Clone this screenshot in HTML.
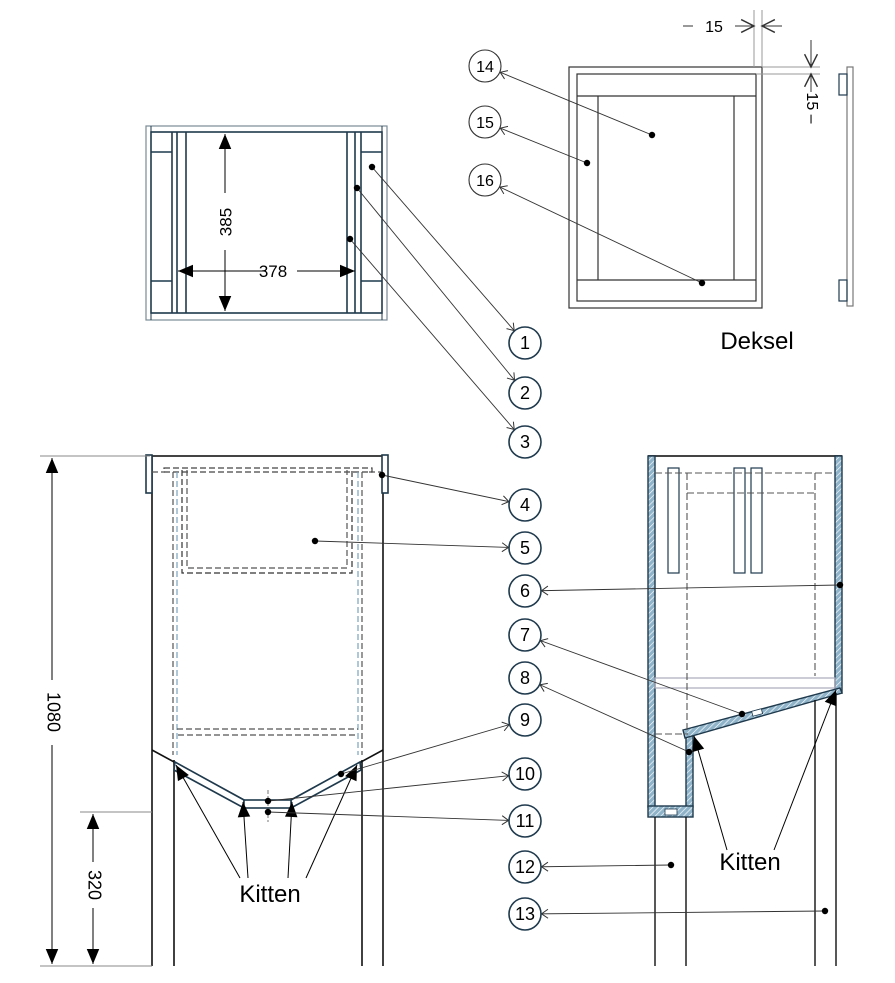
<!DOCTYPE html>
<html><head><meta charset="utf-8"><style>
html,body{margin:0;padding:0;background:#fff;}
svg{display:block;font-family:"Liberation Sans",sans-serif;}
</style></head><body>
<svg width="895" height="983" viewBox="0 0 895 983" xmlns="http://www.w3.org/2000/svg">
<defs>
<marker id="a" markerUnits="userSpaceOnUse" markerWidth="40" markerHeight="20" viewBox="-30 -10 40 20" refX="0" refY="0" orient="auto">
<path d="M-23,-4.5 L-16.5,0 L-23,4.5" fill="none" stroke="#333" stroke-width="1"/>
</marker>
<marker id="f" markerUnits="userSpaceOnUse" markerWidth="20" markerHeight="20" viewBox="-14 -7 16 14" refX="0" refY="0" orient="auto-start-reverse">
<path d="M-12,-5 L0,0 L-12,5 Z" fill="#000"/>
</marker>
<marker id="o" markerUnits="userSpaceOnUse" markerWidth="20" markerHeight="20" viewBox="-12 -6 14 12" refX="0" refY="0" orient="auto">
<path d="M-9,-4.5 L0,0 L-9,4.5" fill="none" stroke="#333" stroke-width="1"/>
</marker>
<pattern id="h" width="4" height="4" patternUnits="userSpaceOnUse" patternTransform="rotate(45)">
<rect width="4" height="4" fill="#8fb3c9"/><line x1="0" y1="0" x2="0" y2="4" stroke="#fff" stroke-width="1.3"/>
</pattern>
</defs>

<!-- TOP VIEW -->
<g fill="none" stroke="#1f3a4d" stroke-width="1.6">
<rect x="146" y="126" width="241" height="194" stroke="#7a8a95" stroke-width="1.2"/>
<rect x="151" y="132" width="231" height="181"/>
<line x1="172" y1="132" x2="172" y2="313"/>
<line x1="177" y1="132" x2="177" y2="313"/>
<line x1="186" y1="132" x2="186" y2="313"/>
<line x1="347" y1="132" x2="347" y2="313"/>
<line x1="355" y1="132" x2="355" y2="313"/>
<line x1="361" y1="132" x2="361" y2="313"/>
<line x1="151" y1="152" x2="172" y2="152"/>
<line x1="151" y1="281" x2="172" y2="281"/>
<line x1="361" y1="152" x2="382" y2="152"/>
<line x1="361" y1="281" x2="382" y2="281"/>
<line x1="151" y1="320" x2="151" y2="126" stroke-width="1"/>
<line x1="382" y1="320" x2="382" y2="126" stroke-width="1"/>
</g>
<g stroke="#000" stroke-width="1">
<line x1="225" y1="134" x2="225" y2="193" marker-start="url(#f)"/>
<line x1="225" y1="250" x2="225" y2="311" marker-end="url(#f)"/>
<line x1="266" y1="271" x2="178" y2="271" marker-end="url(#f)"/>
<line x1="297" y1="271" x2="355" y2="271" marker-end="url(#f)"/>
</g>
<text x="227" y="222" font-size="17" text-anchor="middle" transform="rotate(-90 227 222)" dominant-baseline="middle">385</text>
<text x="273" y="277" font-size="17" text-anchor="middle">378</text>

<!-- LID -->
<g fill="none" stroke="#333" stroke-width="1.2">
<rect x="569" y="67" width="193" height="241"/>
<rect x="577" y="74" width="179" height="227"/>
<line x1="577" y1="96" x2="756" y2="96"/>
<line x1="577" y1="280" x2="756" y2="280"/>
<line x1="598" y1="96" x2="598" y2="280"/>
<line x1="734" y1="96" x2="734" y2="280"/>
<rect x="847" y="67" width="6" height="239" stroke="#777"/>
<rect x="839" y="74" width="8" height="21" stroke="#1f3a4d"/>
<rect x="839" y="280" width="8" height="21" stroke="#1f3a4d"/>
</g>
<g stroke="#999" stroke-width="1">
<line x1="754" y1="10" x2="754" y2="67"/><line x1="762" y1="10" x2="762" y2="67"/>
<line x1="762" y1="67" x2="820" y2="67"/><line x1="756" y1="74" x2="820" y2="74"/>
</g>
<g stroke="#333" stroke-width="1">
<line x1="735" y1="26" x2="754" y2="26" marker-end="url(#o)"/>
<line x1="782" y1="26" x2="762" y2="26" marker-end="url(#o)"/>
<line x1="683" y1="26" x2="693" y2="26"/>
<line x1="811" y1="40" x2="811" y2="67" marker-end="url(#o)"/>
<line x1="811" y1="92" x2="811" y2="74" marker-end="url(#o)"/>
</g>
<text x="714" y="32" font-size="16" text-anchor="middle">15</text>
<text x="811" y="108" font-size="16" text-anchor="middle" dominant-baseline="middle" transform="rotate(90 811 108)">15 –</text>
<text x="757" y="349" font-size="24" text-anchor="middle">Deksel</text>

<!-- FRONT VIEW -->
<g fill="none" stroke="#111" stroke-width="1.6">
<line x1="151" y1="456" x2="383" y2="456" stroke="#444" stroke-width="2"/>
<line x1="152" y1="456" x2="152" y2="966"/>
<line x1="383" y1="456" x2="383" y2="966"/>
<line x1="174" y1="760" x2="174" y2="966"/>
<line x1="362" y1="760" x2="362" y2="966"/>
<line x1="152" y1="750" x2="244" y2="800"/>
<line x1="383" y1="750" x2="291" y2="800"/>
</g>
<g fill="#fff" stroke="#1f3a4d" stroke-width="1.6">
<rect x="146" y="455" width="6" height="38"/>
<rect x="382" y="455" width="6" height="38"/>
<path d="M175,762 L244,800 L244,808 L174,770 Z"/>
<path d="M360,762 L291,800 L291,808 L361,770 Z"/>
<rect x="244" y="800" width="47" height="8"/>
</g>
<g fill="none" stroke="#555" stroke-width="1.2" stroke-dasharray="6,3">
<path d="M152,472 L165,472 M369,472 L382,472"/>
<rect x="164" y="468" width="208" height="4" stroke="#444"/>
<line x1="173" y1="472" x2="173" y2="755"/>
<line x1="362" y1="472" x2="362" y2="755"/>
<line x1="177" y1="472" x2="177" y2="755" stroke="#7aa3bd"/>
<line x1="358" y1="472" x2="358" y2="755" stroke="#7aa3bd"/>
<path d="M182,470 L182,573 L352,573 L352,470" stroke="#333"/>
<path d="M187,470 L187,568 L347,568 L347,470"/>
<line x1="177" y1="729" x2="358" y2="729"/>
<line x1="178" y1="735" x2="357" y2="735"/>
</g>
<line x1="268" y1="790" x2="268" y2="822" stroke="#555" stroke-width="0.8" stroke-dasharray="4,2"/>

<!-- dims 1080 / 320 -->
<g stroke="#888" stroke-width="1">
<line x1="40" y1="456" x2="150" y2="456"/>
<line x1="40" y1="966" x2="152" y2="966"/>
<line x1="80" y1="812" x2="152" y2="812"/>
</g>
<g stroke="#000" stroke-width="1">
<line x1="52" y1="458" x2="52" y2="680" marker-start="url(#f)"/>
<line x1="52" y1="745" x2="52" y2="964" marker-end="url(#f)"/>
<line x1="93" y1="814" x2="93" y2="862" marker-start="url(#f)"/>
<line x1="93" y1="908" x2="93" y2="964" marker-end="url(#f)"/>
</g>
<text x="52" y="712" font-size="18" text-anchor="middle" dominant-baseline="middle" transform="rotate(90 52 712)">1080</text>
<text x="93" y="885" font-size="18" text-anchor="middle" dominant-baseline="middle" transform="rotate(90 93 885)">320</text>

<text x="270" y="902" font-size="24" text-anchor="middle">Kitten</text>
<g stroke="#000" stroke-width="1">
<line x1="240" y1="878" x2="176" y2="765" marker-end="url(#f)"/>
<line x1="248" y1="878" x2="243" y2="802" marker-end="url(#f)"/>
<line x1="288" y1="878" x2="292" y2="802" marker-end="url(#f)"/>
<line x1="306" y1="878" x2="357" y2="765" marker-end="url(#f)"/>
</g>

<!-- SIDE VIEW -->
<g stroke="#1f3a4d" stroke-width="1.4">
<line x1="648" y1="456" x2="842" y2="456" stroke="#444" stroke-width="2"/>
<rect x="648" y="456" width="7" height="351" fill="url(#h)"/>
<rect x="835" y="456" width="7" height="237" fill="url(#h)"/>
<rect x="686" y="735" width="7" height="72" fill="url(#h)"/>
<rect x="648" y="806" width="45" height="11" fill="url(#h)"/>
<path d="M683,730 L840,688 L842,693 L685,738 Z" fill="url(#h)"/>
</g>
<rect x="665" y="809" width="12" height="6" fill="#fff" stroke="#1f3a4d" stroke-width="0.8"/>
<rect x="752" y="710" width="10" height="5" fill="#fff" stroke="#1f3a4d" stroke-width="0.8" transform="rotate(-15 757 712)"/>
<g fill="none" stroke="#1f3a4d" stroke-width="1.2">
<rect x="668" y="468" width="11" height="105"/>
<rect x="734" y="468" width="11" height="105"/>
<rect x="751" y="468" width="11" height="105"/>
<rect x="655" y="678" width="180" height="10" stroke="#aab" />
</g>
<g stroke="#111" stroke-width="1.4">
<line x1="655" y1="817" x2="655" y2="966"/>
<line x1="686" y1="817" x2="686" y2="966"/>
<line x1="815" y1="700" x2="815" y2="966"/>
<line x1="836" y1="693" x2="836" y2="966"/>
</g>
<g fill="none" stroke="#555" stroke-width="1.1" stroke-dasharray="7,3">
<line x1="655" y1="473" x2="835" y2="473"/>
<line x1="687" y1="473" x2="687" y2="735"/>
<line x1="815" y1="473" x2="815" y2="676"/>
<line x1="687" y1="493" x2="815" y2="493"/>
<line x1="655" y1="734" x2="686" y2="734"/>
</g>
<text x="750" y="870" font-size="24" text-anchor="middle">Kitten</text>
<g stroke="#000" stroke-width="1">
<line x1="727" y1="850" x2="694" y2="736" marker-end="url(#f)"/>
<line x1="774" y1="850" x2="836" y2="690" marker-end="url(#f)"/>
</g>

<!-- leader lines -->
<g stroke="#333" stroke-width="0.9" marker-end="url(#a)">
<line x1="372" y1="167" x2="525" y2="343"/>
<line x1="357" y1="188" x2="525" y2="393"/>
<line x1="350" y1="239" x2="525" y2="442"/>
<line x1="382" y1="475" x2="525" y2="505"/>
<line x1="315" y1="541" x2="525" y2="548"/>
<line x1="840" y1="585" x2="525" y2="591"/>
<line x1="742" y1="714" x2="525" y2="635"/>
<line x1="689" y1="752" x2="525" y2="678"/>
<line x1="341" y1="774" x2="525" y2="720"/>
<line x1="268" y1="801" x2="525" y2="774"/>
<line x1="268" y1="812" x2="525" y2="821"/>
<line x1="671" y1="865" x2="525" y2="867"/>
<line x1="825" y1="911" x2="525" y2="914"/>
<line x1="652" y1="135" x2="485" y2="66"/>
<line x1="587" y1="163" x2="485" y2="122"/>
<line x1="702" y1="283" x2="485" y2="180"/>
</g>
<g fill="#000">
<circle cx="372" cy="167" r="3.2"/><circle cx="357" cy="188" r="3.2"/><circle cx="350" cy="239" r="3.2"/>
<circle cx="382" cy="475" r="3.2"/><circle cx="315" cy="541" r="3.2"/><circle cx="840" cy="585" r="3.2"/>
<circle cx="742" cy="714" r="3.2"/><circle cx="689" cy="752" r="3.2"/><circle cx="341" cy="774" r="3.2"/>
<circle cx="268" cy="801" r="3.2"/><circle cx="268" cy="812" r="3.2"/><circle cx="671" cy="865" r="3.2"/>
<circle cx="825" cy="911" r="3.2"/><circle cx="652" cy="135" r="3.2"/><circle cx="587" cy="163" r="3.2"/>
<circle cx="702" cy="283" r="3.2"/>
</g>

<!-- numbered circles -->
<g fill="#fff" stroke="#1f3a4d" stroke-width="1.6">
<circle cx="525" cy="343" r="16"/><circle cx="525" cy="393" r="16"/><circle cx="525" cy="442" r="16"/>
<circle cx="525" cy="505" r="16"/><circle cx="525" cy="548" r="16"/><circle cx="525" cy="591" r="16"/>
<circle cx="525" cy="635" r="16"/><circle cx="525" cy="678" r="16"/><circle cx="525" cy="720" r="16"/>
<circle cx="525" cy="774" r="16"/><circle cx="525" cy="821" r="16"/><circle cx="525" cy="867" r="16"/>
<circle cx="525" cy="914" r="16"/>
<circle cx="485" cy="66" r="16" stroke="#333" stroke-width="1.1"/><circle cx="485" cy="122" r="16" stroke="#333" stroke-width="1.1"/><circle cx="485" cy="180" r="16" stroke="#333" stroke-width="1.1"/>
</g>
<g font-size="18" text-anchor="middle" fill="#000">
<text x="525" y="349">1</text><text x="525" y="399">2</text><text x="525" y="448">3</text>
<text x="525" y="511">4</text><text x="525" y="554">5</text><text x="525" y="597">6</text>
<text x="525" y="641">7</text><text x="525" y="684">8</text><text x="525" y="726">9</text>
<text x="525" y="780">10</text><text x="525" y="827">11</text><text x="525" y="873">12</text>
<text x="525" y="920">13</text>
<text x="485" y="72" font-size="16">14</text><text x="485" y="128" font-size="16">15</text><text x="485" y="186" font-size="16">16</text>
</g>
</svg>
</body></html>
